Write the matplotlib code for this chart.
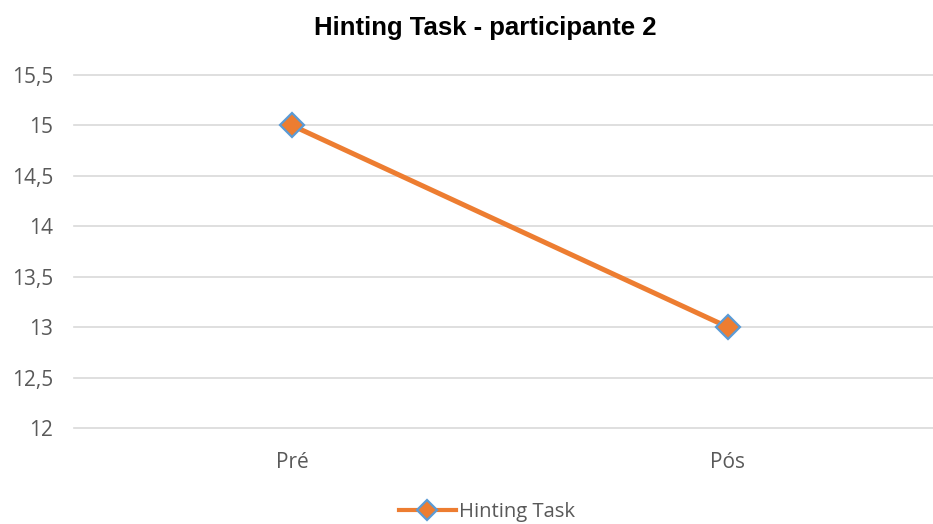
#!/usr/bin/env python3
# -*- coding: utf-8 -*-

"""
Hinting Task - participante 2, pre/post line chart.
"""

### Import Space ###

import matplotlib.pyplot as plt

### Data ###

categories = ["Pré", "Pós"]
hinting_values = [15, 13]
y_ticks = [12, 12.5, 13, 13.5, 14, 14.5, 15, 15.5]

### Running Script Space ###

if __name__ == '__main__':
    plt.rcParams['font.family'] = ['Open Sans', 'DejaVu Sans']

    fig = plt.figure(figsize=(9.33, 5.24), dpi=100)
    ax = fig.add_axes([74/933, 0.1832, (933-74)/933, 0.6737])

    x = list(range(len(categories)))
    ax.plot(x, hinting_values, color="#ED7D31", linewidth=3.6,
            marker="D", markersize=12.5, markerfacecolor="#ED7D31",
            markeredgecolor="#5B9BD5", markeredgewidth=1.6,
            label="Hinting Task", zorder=3)

    ax.set_xlim(-0.5, 1.5 - 13/436)
    ax.set_ylim(12, 15.5)
    ax.set_xticks(x)
    ax.set_xticklabels(categories)
    ax.set_yticks(y_ticks)
    ax.set_yticklabels([str(v).replace(".", ",").replace(",0", "") for v in y_ticks])
    ax.tick_params(length=0, labelsize=15, colors="#595959")
    ax.tick_params(axis='y', pad=15)
    ax.tick_params(axis='x', pad=17)
    ax.grid(axis='y', color="#d9d9d9", linewidth=1.2)
    for gl in ax.get_ygridlines():
        gl.set_clip_on(False)
    ax.set_axisbelow(True)
    for s in ax.spines.values():
        s.set_visible(False)

    fig.text(485/933, 1 - 35/524, "Hinting Task - participante 2",
             ha="center", va="baseline", fontsize=18.5, fontweight="bold",
             family="Liberation Sans")

    leg = fig.legend(loc="center", bbox_to_anchor=(0.522, 0.022), frameon=False,
                     fontsize=14.6, labelcolor="#595959", handlelength=2.8,
                     handletextpad=0.15, markerscale=0.8)
    leg.get_lines()[0].set_linewidth(3)

    fig.savefig("out.png", dpi=100)
